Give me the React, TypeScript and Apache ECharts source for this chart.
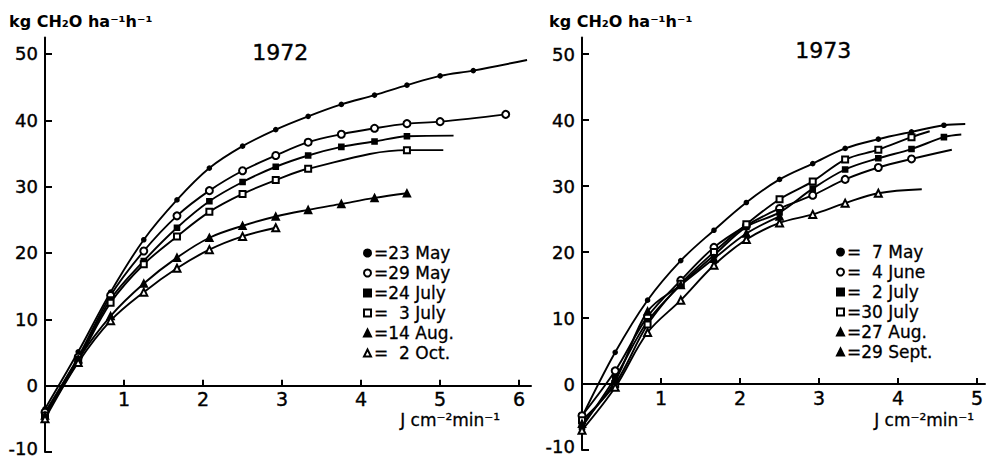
import React, { useEffect, useRef } from 'react';
import * as echarts from 'echarts';

// ---------- 1972 ----------
const x1972 = [0, 0.42, 0.83, 1.25, 1.67, 2.08, 2.5, 2.92, 3.33, 3.75, 4.17, 4.58, 5.0, 5.42, 5.83];
const may23 = [-3.5, 5.1, 14.1, 22.0, 28.0, 32.8, 36.1, 38.6, 40.6, 42.4, 43.8, 45.3, 46.7, 47.5, null];
const may23Tail = [6.1, 49.1];
const may29 = [-4.0, 4.3, 13.6, 20.3, 25.6, 29.4, 32.4, 34.7, 36.7, 37.9, 38.8, 39.5, 39.8, null, 40.9];
const july24 = [-4.5, 4.0, 13.0, 18.8, 23.8, 27.8, 30.7, 33.0, 34.7, 36.0, 36.8, 37.6];
const july24Tail = [5.17, 37.7];
const july3 = [-4.5, 3.8, 12.5, 18.3, 22.5, 26.2, 28.9, 31.0, 32.7, null, null, 35.5];
const july3Tail = [5.04, 35.5];
const aug14 = [-4.5, 4.0, 10.5, 15.4, 19.3, 22.3, 24.1, 25.5, 26.5, 27.4, 28.3, 29.0];
const oct2 = [-5.0, 3.5, 9.8, 14.1, 17.7, 20.5, 22.5, 23.8];

// ---------- 1973 ----------
const x1973 = [0, 0.42, 0.83, 1.25, 1.67, 2.08, 2.5, 2.92, 3.33, 3.75, 4.17, 4.58];
const may7 = [-5.0, 4.8, 12.7, 18.7, 23.3, 27.5, 31.0, 33.4, 35.7, 37.1, 38.2, 39.2];
const may7Tail = [4.85, 39.4];
const june4 = [-4.8, 2.0, 10.2, 15.7, 20.7, 24.0, 26.6, 28.6, 31.0, 32.8, 34.1];
const june4Tail = [4.68, 35.5];
const july2 = [-6.5, 1.0, 9.5, 15.0, 19.5, 23.8, 26.0, 29.6, 32.5, 34.2, 35.6, 37.4];
const july2Tail = [4.8, 37.8];
const july30 = [-5.5, 0.0, 9.0, 15.2, 20.0, 24.2, 28.0, 30.7, 34.0, 35.5, 37.4];
const july30Tail = [4.4, 38.3];
const aug27 = [-6.0, 0.5, 11.0, 15.0, 19.0, 22.8, 25.4];
const sept29 = [-7.0, -0.5, 7.8, 12.7, 18.0, 21.9, 24.4, 25.7, 27.4, 28.9];
const sept29Tail = [4.3, 29.5];

const xTicks1972 = [1, 2, 3, 4, 5, 6];
const xTicks1973 = [1, 2, 3, 4, 5];
const yTicks = [-10, 0, 10, 20, 30, 40, 50];
const Y_MIN = -10;
const Y_MAX = 52.5;

const legend1972 = ['23 May', '29 May', '24 July', '3 July', '14 Aug.', '2 Oct.'];
const legend1973 = ['7 May', '4 June', '2 July', '30 July', '27 Aug.', '29 Sept.'];
const legendLabels: Record<string, string> = {
  '23 May': '=23 May',
  '29 May': '=29 May',
  '24 July': '=24 July',
  '3 July': '=  3 July',
  '14 Aug.': '=14 Aug.',
  '2 Oct.': '=  2 Oct.',
  '7 May': '=  7 May',
  '4 June': '=  4 June',
  '2 July': '=  2 July',
  '30 July': '=30 July',
  '27 Aug.': '=27 Aug.',
  '29 Sept.': '=29 Sept.',
};

const FONT = 'DejaVu Sans';
const GRIDS = [
  { left: 45, top: 37.4, width: 486, height: 414.6, outerBoundsMode: 'none', containLabel: false },
  { left: 582, top: 37.5, width: 403, height: 412.5, outerBoundsMode: 'none', containLabel: false },
];

function buildSeries(
  name: string,
  xs: number[],
  ys: (number | null)[],
  tail: number[] | null,
  symbol: string,
  size: number,
  gi: number
) {
  const data: any[] = [];
  ys.forEach((y, i) => {
    if (y !== null && y !== undefined) data.push([xs[i], y]);
  });
  if (tail) data.push({ value: tail, symbol: 'none' });
  return {
    name,
    type: 'line',
    xAxisIndex: gi,
    yAxisIndex: gi,
    data,
    smooth: 0.35,
    symbol,
    symbolSize: size,
    showSymbol: true,
    connectNulls: true,
    lineStyle: { color: '#000', width: 1.9 },
    itemStyle: { color: '#000', borderColor: '#000', borderWidth: 1.6 },
    emphasis: { disabled: true },
  };
}

function xAxis(gi: number, max: number, ticks: number[]) {
  // place the axis line at y = 0 (offset inward from the grid's bottom edge)
  const zeroOffset = ((0 - Y_MIN) / (Y_MAX - Y_MIN)) * GRIDS[gi].height;
  return {
    type: 'value',
    gridIndex: gi,
    min: 0,
    max,
    position: 'bottom',
    offset: -zeroOffset,
    splitLine: { show: false },
    axisLine: { onZero: false, lineStyle: { color: '#000', width: 2 } },
    axisTick: { inside: true, length: 6, customValues: ticks, lineStyle: { color: '#000', width: 2 } },
    axisLabel: {
      customValues: ticks, margin: 6, color: '#000', fontSize: 19, lineHeight: 15, fontFamily: FONT,
      textBorderColor: '#000', textBorderWidth: 0.4,
    },
  };
}

function yAxis(gi: number) {
  return {
    type: 'value',
    gridIndex: gi,
    min: Y_MIN,
    max: Y_MAX,
    splitLine: { show: false },
    axisLine: { onZero: false, lineStyle: { color: '#000', width: 2 } },
    axisTick: { inside: true, length: 7, customValues: yTicks, lineStyle: { color: '#000', width: 2 } },
    axisLabel: {
      customValues: yTicks, margin: 7, color: '#000', fontSize: 18, lineHeight: 13, fontFamily: FONT,
      textBorderColor: '#000', textBorderWidth: 0.4,
      formatter: (v: number) => (v === Y_MIN ? '{low|' + v + '}' : String(v)),
      rich: {
        low: {
          color: '#000', fontSize: 18, lineHeight: 13, fontFamily: FONT,
          textBorderColor: '#000', textBorderWidth: 0.4, padding: [0, 0, 7, 0],
        },
      },
    },
  };
}

function legend(names: string[], left: number, top: number, icons: string[]) {
  return {
    orient: 'vertical',
    left,
    top,
    itemGap: 2,
    itemWidth: 7,
    itemHeight: 7,
    selectedMode: false,
    padding: 0,
    data: names.map((n, i) => ({ name: n, icon: icons[i] })),
    formatter: (n: string) => legendLabels[n],
    textStyle: {
      color: '#000', fontSize: 17, lineHeight: 18, fontFamily: FONT, padding: [0, 0, 0, -2],
      textBorderColor: '#000', textBorderWidth: 0.3,
    },
  };
}

export default function App() {
  const ref = useRef<HTMLDivElement>(null);
  useEffect(() => {
    if (!ref.current) return;
    const chart = echarts.init(ref.current, undefined, { renderer: 'svg' });
    const textStyle = (s: any) => ({ fill: '#000', fontFamily: FONT, ...s });
    chart.setOption({
      animation: false,
      backgroundColor: '#fff',
      color: ['#000'],
      grid: GRIDS,
      xAxis: [xAxis(0, 6.15, xTicks1972), xAxis(1, 5.1, xTicks1973)],
      yAxis: [yAxis(0), yAxis(1)],
      legend: [
        legend(legend1972, 363, 244, ['circle', 'emptyCircle', 'rect', 'emptyRect', 'triangle', 'emptyTriangle']),
        legend(legend1973, 836, 243, ['circle', 'emptyCircle', 'rect', 'emptyRect', 'triangle', 'triangle']),
      ],
      graphic: [
        { type: 'text', left: 9, top: 13, style: textStyle({ text: 'kg CH₂O ha⁻¹h⁻¹', fontSize: 16, fontWeight: 'bold' }) },
        { type: 'text', left: 549, top: 13, style: textStyle({ text: 'kg CH₂O ha⁻¹h⁻¹', fontSize: 16, fontWeight: 'bold' }) },
        { type: 'text', left: 252, top: 41, style: textStyle({ text: '1972', fontSize: 22, stroke: '#000', lineWidth: 0.4 }) },
        { type: 'text', left: 795, top: 39, style: textStyle({ text: '1973', fontSize: 22, stroke: '#000', lineWidth: 0.4 }) },
        { type: 'text', left: 400, top: 411, style: textStyle({ text: 'J cm⁻²min⁻¹', fontSize: 17, lineHeight: 16, stroke: '#000', lineWidth: 0.3 }) },
        { type: 'text', left: 874, top: 411, style: textStyle({ text: 'J cm⁻²min⁻¹', fontSize: 17, lineHeight: 16, stroke: '#000', lineWidth: 0.3 }) },
      ],
      series: [
        buildSeries('23 May', x1972, may23, may23Tail, 'circle', 4, 0),
        buildSeries('29 May', x1972, may29, null, 'emptyCircle', 7, 0),
        buildSeries('24 July', x1972, july24, july24Tail, 'rect', 5, 0),
        buildSeries('3 July', x1972, july3, july3Tail, 'emptyRect', 6, 0),
        buildSeries('14 Aug.', x1972, aug14, null, 'triangle', 7, 0),
        buildSeries('2 Oct.', x1972, oct2, null, 'emptyTriangle', 7, 0),
        buildSeries('7 May', x1973, may7, may7Tail, 'circle', 4, 1),
        buildSeries('4 June', x1973, june4, june4Tail, 'emptyCircle', 7, 1),
        buildSeries('2 July', x1973, july2, july2Tail, 'rect', 5, 1),
        buildSeries('30 July', x1973, july30, july30Tail, 'emptyRect', 6, 1),
        buildSeries('27 Aug.', x1973, aug27, null, 'triangle', 7, 1),
        buildSeries('29 Sept.', x1973, sept29, sept29Tail, 'emptyTriangle', 7, 1),
      ],
    });
    return () => chart.dispose();
  }, []);
  return (
    <div
      ref={ref}
      style={{ position: 'fixed', left: 0, top: 0, width: 986, height: 459, background: '#fff' }}
    />
  );
}
